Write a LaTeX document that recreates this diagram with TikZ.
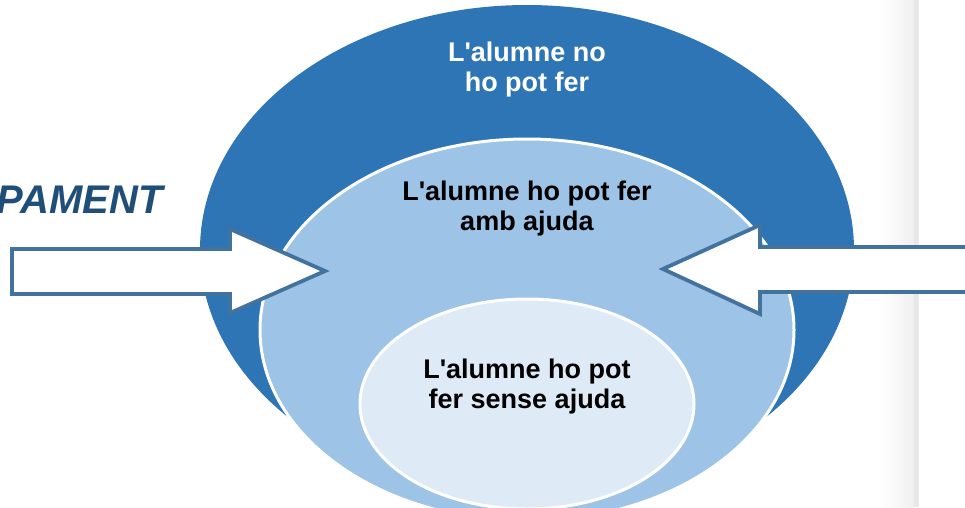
\documentclass[tikz,border=0pt]{standalone}
\usepackage{fontspec}
\setsansfont{Liberation Sans}
\usetikzlibrary{shapes.geometric}

\definecolor{darkblue}{RGB}{46,117,182}
\definecolor{midblue}{RGB}{157,195,230}
\definecolor{paleblue}{RGB}{222,235,247}
\definecolor{arrowline}{RGB}{66,114,158}
\definecolor{titleblue}{RGB}{31,78,121}

\begin{document}
\begin{tikzpicture}[x=1pt,y=-1pt,
                    ring/.style={ellipse,inner sep=0pt},
                    label node/.style={font=\sffamily\bfseries\fontsize{27}{30}\selectfont,align=center},
                    push arrow/.style={draw=arrowline,fill=white,line width=3.8pt,line join=miter}]

    \useasboundingbox (0,0) rectangle (965,507);
    \clip (0,0) rectangle (965,507);

    % grey page edge
    \shade[left color=white,right color=black!6] (880,0) rectangle (914,507);
    \fill[black!9] (914,0) rectangle (919,507);

    % the three zones
    \node[ring,fill=darkblue,minimum width=654pt,minimum height=490pt] (1) at (527,250) {};
    \node[ring,fill=midblue,draw=white,line width=3pt,minimum width=534pt,minimum height=382pt] (2) at (527,330) {};
    \node[ring,fill=paleblue,draw=white,line width=3pt,minimum width=334pt,minimum height=210pt] (3) at (527,404) {};

    \node[label node,text=white] (t1) at (527,70) {L\textquotesingle alumne no\\ho pot fer};
    \node[label node] (t2) at (527,209) {L\textquotesingle alumne ho pot fer\\amb ajuda};
    \node[label node] (t3) at (527,387) {L\textquotesingle alumne ho pot\\fer sense ajuda};

    % arrows
    \draw[push arrow] (12,249) -- (230,249) -- (230,229) -- (325,271)
        -- (230,313) -- (230,294) -- (12,294) -- cycle;
    \draw[push arrow] (980,247) -- (760,247) -- (760,225) -- (663,269)
        -- (760,314) -- (760,292) -- (980,292);

    \node[anchor=base east,font=\sffamily\bfseries\itshape\fontsize{40}{44}\selectfont,
          text=titleblue,inner sep=0pt] (title) at (163,213) {PAMENT};
\end{tikzpicture}
\end{document}
